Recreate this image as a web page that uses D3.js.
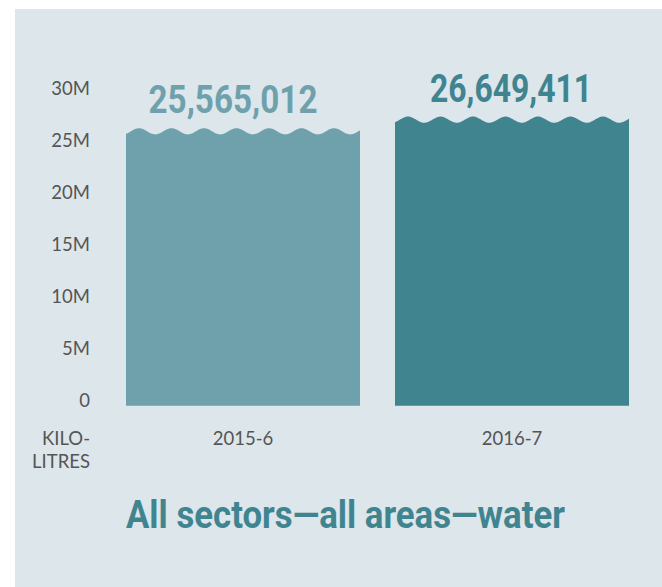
<!DOCTYPE html>
<html><head><meta charset="utf-8">
<script src="https://cdn.jsdelivr.net/npm/d3@7/dist/d3.min.js"></script>
<style>body{margin:0;background:#fff;}svg{display:block;}</style>
</head><body>
<svg id="chart" width="662" height="587"></svg>
<script>
const categories = ["2015-6", "2016-7"];
const values = [25565012, 26649411];
const tickValues = [0, 5e6, 10e6, 15e6, 20e6, 25e6, 30e6];
const tickLabels = ["0", "5M", "10M", "15M", "20M", "25M", "30M"];
const unitLabel = ["KILO-", "LITRES"];
const title = "All sectors\u2014all areas\u2014water";

const barColors = ["#6fa1ad", "#408490"];
const bg = "#dce6eb";

const svg = d3.select("#chart");
svg.append("rect").attr("x", 15).attr("y", 9).attr("width", 647).attr("height", 578).attr("fill", bg);

const x = d3.scaleBand().domain(categories).range([126, 629]).paddingInner(35/269).paddingOuter(0);
const y = d3.scaleLinear().domain([0, 30e6]).range([405.7, 83.7]);
const yLab = d3.scaleLinear().domain([0, 30e6]).range([399.5, 87.5]);

const tickFont = "Lato, 'Open Sans', sans-serif";
const numFont = "Roboto, 'DejaVu Sans Condensed', sans-serif";

// axis labels
const axis = d3.axisLeft(yLab).tickValues(tickValues)
  .tickFormat((d, i) => tickLabels[i]).tickSize(0).tickPadding(0);
const ag = svg.append("g").attr("transform", "translate(90,0)").call(axis);
ag.select(".domain").remove();
ag.selectAll("text").attr("font-family", tickFont).attr("font-size", 18.5)
  .attr("fill", "#555").attr("dy", "0.36em");

// unit label
svg.append("g").selectAll("text").data(unitLabel).join("text")
  .attr("x", 90).attr("y", (d, i) => 444.5 + i * 23.5)
  .attr("text-anchor", "end").attr("font-family", tickFont).attr("font-size", 18.5)
  .attr("fill", "#555").text(d => d);

// category labels
svg.append("g").selectAll("text").data(categories).join("text")
  .attr("x", d => x(d) + x.bandwidth() / 2).attr("y", 444.5)
  .attr("text-anchor", "middle").attr("font-family", tickFont).attr("font-size", 18.5)
  .attr("fill", "#555").text(d => d);

// wavy bars
const amp = 3.1, period = 32.5, phase = 13;
function barPath(d, i) {
  const x0 = x(categories[i]), w = x.bandwidth();
  const top = y(d), bottom = y(0);
  const pts = [];
  for (let t = 0; t <= w; t += 1) {
    pts.push([x0 + t, top - amp * Math.cos(2 * Math.PI * (t - phase) / period)]);
  }
  const line = d3.line();
  return "M" + x0 + "," + bottom + "L" + line(pts).slice(1) + "L" + (x0 + w) + "," + bottom + "Z";
}
svg.append("g").selectAll("path").data(values).join("path")
  .attr("d", barPath).attr("fill", (d, i) => barColors[i]);

// value labels
const fmt = d3.format(",");
const labelW = [169, 162];
const labelDx = [-10, -1];
svg.append("g").selectAll("text").data(values).join("text")
  .attr("x", (d, i) => x(categories[i]) + x.bandwidth() / 2 + labelDx[i])
  .attr("y", d => y(d) - 18)
  .attr("text-anchor", "middle").attr("font-family", numFont).attr("font-weight", 700)
  .attr("font-size", 39).attr("fill", (d, i) => barColors[i])
  .attr("textLength", (d, i) => labelW[i]).attr("lengthAdjust", "spacingAndGlyphs")
  .text(d => fmt(d));

// title
svg.append("text").attr("x", 126).attr("y", 528.3)
  .attr("font-family", numFont).attr("font-weight", 700).attr("font-size", 38)
  .attr("fill", barColors[1]).attr("textLength", 439).attr("lengthAdjust", "spacingAndGlyphs")
  .text(title);
</script>
</body></html>
